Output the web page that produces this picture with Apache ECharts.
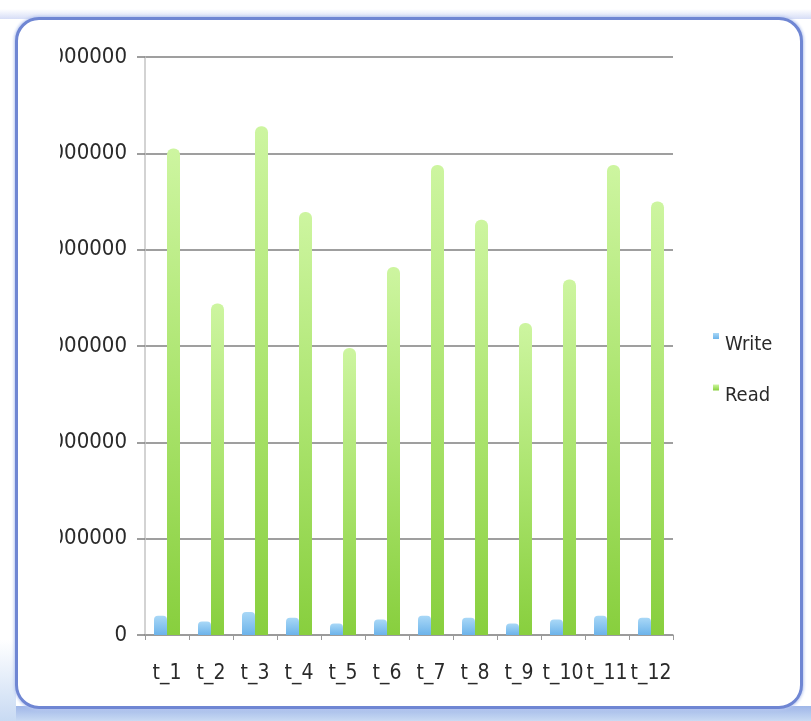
<!DOCTYPE html>
<html>
<head>
<meta charset="utf-8">
<script src="https://cdn.jsdelivr.net/npm/echarts@6/dist/echarts.min.js"></script>
<style>
  html, body { margin: 0; padding: 0; background: #ffffff; width: 811px; height: 721px; overflow: hidden; }
  #topband { position: absolute; left: 0; top: 9px; width: 811px; height: 10px;
    background: linear-gradient(#ffffff, #d6ddf6); }
  #bottombar { position: absolute; left: 0; top: 706px; width: 811px; height: 15px;
    background: linear-gradient(#9fb6e8, #c8daf3); }
  #leftband { position: absolute; left: 0; top: 640px; width: 16px; height: 81px;
    background: linear-gradient(#ffffff, #c8daf3); }
  #frame { position: absolute; left: 15px; top: 17px; width: 788px; height: 692px;
    box-sizing: border-box; border: 3px solid #6f86d3; border-radius: 24px;
    background: #ffffff; box-shadow: 0 0 3px 1px #b9c8f0; }
  #chart { position: absolute; left: 60px; top: 0; width: 751px; height: 721px; }
</style>
</head>
<body>
<div id="topband"></div>
<div id="bottombar"></div>
<div id="leftband"></div>
<div id="frame"></div>
<div id="chart"></div>
<script>
const categories = ['t_1', 't_2', 't_3', 't_4', 't_5', 't_6', 't_7', 't_8', 't_9', 't_10', 't_11', 't_12'];
const writeValues = [200000, 140000, 240000, 180000, 120000, 160000, 200000, 180000, 120000, 160000, 200000, 180000];
const readValues = [5050000, 3440000, 5280000, 4390000, 2980000, 3820000, 4880000, 4310000, 3240000, 3690000, 4880000, 4500000];
const yMin = 0, yMax = 6000000, yStep = 1000000;
const seriesNames = ['Write', 'Read'];

const FONT = "'DejaVu Sans Condensed', 'Liberation Sans Narrow', sans-serif";
const chart = echarts.init(document.getElementById('chart'), null, { renderer: 'canvas' });

const option = {
  animation: false,
  backgroundColor: 'transparent',
  grid: { left: 85, right: 138, top: 57, bottom: 86, containLabel: false, outerBoundsMode: 'none' },
  legend: {
    orient: 'vertical',
    left: 653,
    top: 333,
    padding: 0,
    itemGap: 30,
    itemWidth: 6,
    itemHeight: 6,
    icon: 'rect',
    data: seriesNames,
    formatter: '{n|{name}}',
    textStyle: {
      fontFamily: FONT, fontSize: 20, color: '#2a2a2a',
      rich: { n: { fontFamily: FONT, fontSize: 20, color: '#2a2a2a', padding: [17, 0, 0, 1] } }
    }
  },
  xAxis: {
    type: 'category',
    data: categories,
    axisLine: { show: true, lineStyle: { color: '#9a9a9a', width: 1.5 } },
    axisTick: { show: true, length: 5, alignWithLabel: false, lineStyle: { color: '#9a9a9a' } },
    axisLabel: { interval: 0, margin: 28, fontFamily: FONT, fontSize: 21, color: '#2a2a2a' },
    splitLine: { show: false }
  },
  yAxis: {
    type: 'value',
    min: yMin, max: yMax, interval: yStep,
    axisLine: { show: true, lineStyle: { color: '#c4c4c4', width: 1.5 } },
    axisTick: { show: true, length: 8, lineStyle: { color: '#7f7f7f', width: 1.5 } },
    axisLabel: { margin: 18, fontFamily: FONT, fontSize: 22, color: '#2a2a2a',
      formatter: function (v) { return String(v); } },
    splitLine: { show: true, lineStyle: { color: '#7f7f7f', width: 1.5 } }
  },
  series: [
    {
      name: seriesNames[0],
      type: 'bar',
      data: writeValues,
      barWidth: 13,
      barGap: '0%',
      itemStyle: {
        borderRadius: [4, 4, 0, 0],
        color: { type: 'linear', x: 0, y: 0, x2: 0, y2: 1,
          colorStops: [{ offset: 0, color: '#a9d8f7' }, { offset: 1, color: '#6cb3ea' }] }
      }
    },
    {
      name: seriesNames[1],
      type: 'bar',
      data: readValues,
      barWidth: 13,
      barGap: '0%',
      itemStyle: {
        borderRadius: [6, 6, 0, 0],
        color: { type: 'linear', x: 0, y: 0, x2: 0, y2: 1,
          colorStops: [{ offset: 0, color: '#cdf5a0' }, { offset: 0.5, color: '#abe46e' }, { offset: 1, color: '#88cf3e' }] }
      }
    }
  ]
};
chart.setOption(option);
</script>
</body>
</html>
